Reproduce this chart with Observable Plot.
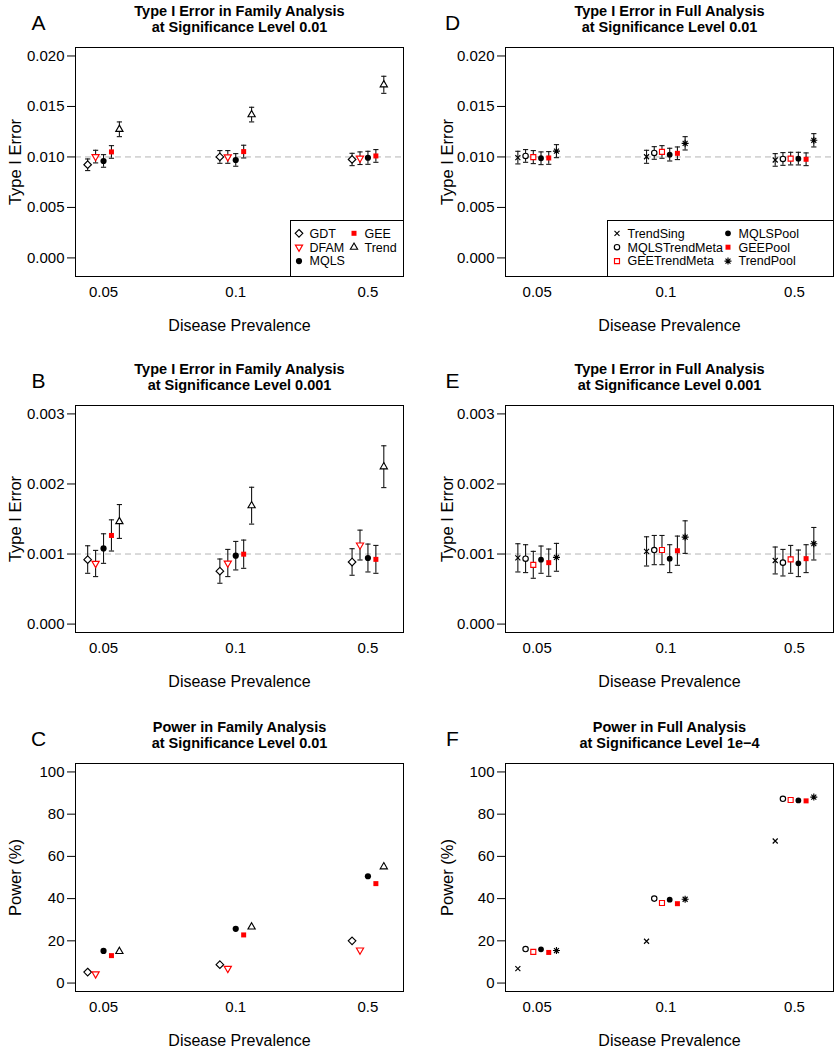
<!DOCTYPE html>
<html><head><meta charset="utf-8">
<script src="https://cdn.jsdelivr.net/npm/d3@7"></script>
<script src="https://cdn.jsdelivr.net/npm/@observablehq/plot@0.6"></script>
<style>
body{margin:0;background:#fff;}
#fig{position:relative;width:838px;height:1050px;overflow:hidden;background:#fff;font-family:"Liberation Sans",Arial,Helvetica,sans-serif;}
#fig svg{position:absolute;}
</style></head><body><div id="fig"></div><script>
// ---------------- data ----------------
const prevalenceLabels = ["0.05", "0.1", "0.5"];
const familyMethods = ["GDT", "DFAM", "MQLS", "GEE", "Trend"];
const fullMethods = ["TrendSing", "MQLSTrendMeta", "GEETrendMeta", "MQLSPool", "GEEPool", "TrendPool"];

// A: Type I error, family analysis, alpha 0.01 (rows: methods, cols: prevalence)
const famErr01   = [[0.00923,0.01000,0.00975],[0.01003,0.01000,0.00988],[0.00960,0.00970,0.00992],[0.01050,0.01053,0.01010],[0.01274,0.01419,0.01715]];
const famErr01Lo = [[0.00865,0.00937,0.00914],[0.00941,0.00937,0.00925],[0.00898,0.00908,0.00927],[0.00987,0.00990,0.00947],[0.01201,0.01347,0.01630]];
const famErr01Hi = [[0.00980,0.01063,0.01036],[0.01066,0.01063,0.01050],[0.01023,0.01033,0.01056],[0.01112,0.01116,0.01073],[0.01347,0.01492,0.01799]];

// B: Type I error, family analysis, alpha 0.001
const famErr001   = [[0.000920,0.000756,0.000886],[0.000865,0.000870,0.001128],[0.001080,0.000976,0.000943],[0.001265,0.000998,0.000924],[0.001464,0.001690,0.002246]];
const famErr001Lo = [[0.000725,0.000583,0.000697],[0.000678,0.000678,0.000915],[0.000867,0.000773,0.000744],[0.001043,0.000796,0.000725],[0.001223,0.001427,0.001948]];
const famErr001Hi = [[0.001118,0.000929,0.001076],[0.001052,0.001066,0.001341],[0.001289,0.001180,0.001142],[0.001488,0.001199,0.001123],[0.001706,0.001953,0.002545]];

// C: Power (%), family analysis, alpha 0.01
const famPower = [[5.2,8.7,20.0],[4.3,6.9,15.6],[15.2,25.7,50.6],[13.0,22.8,47.1],[15.0,26.6,55.1]];

// D: Type I error, full analysis, alpha 0.01
const fullErr01   = [[0.00993,0.01002,0.00970],[0.01010,0.01040,0.00980],[0.00998,0.01050,0.00983],[0.00987,0.01023,0.00983],[0.00990,0.01036,0.00977],[0.01058,0.01135,0.01165]];
const fullErr01Lo = [[0.00931,0.00937,0.00908],[0.00947,0.00977,0.00917],[0.00934,0.00987,0.00921],[0.00924,0.00960,0.00921],[0.00927,0.00974,0.00914],[0.00993,0.01069,0.01099]];
const fullErr01Hi = [[0.01056,0.01066,0.01033],[0.01073,0.01102,0.01043],[0.01063,0.01112,0.01046],[0.01050,0.01086,0.01046],[0.01053,0.01099,0.01040],[0.01122,0.01201,0.01231]];

// E: Type I error, full analysis, alpha 0.001
const fullErr001   = [[0.000946,0.001038,0.000908],[0.000934,0.001057,0.000877],[0.000846,0.001057,0.000924],[0.000920,0.000934,0.000867],[0.000877,0.001047,0.000934],[0.000953,0.001242,0.001147]];
const fullErr001Lo = [[0.000744,0.000829,0.000716],[0.000735,0.000848,0.000687],[0.000654,0.000848,0.000725],[0.000725,0.000735,0.000678],[0.000682,0.000839,0.000735],[0.000754,0.001009,0.000915]];
const fullErr001Hi = [[0.001147,0.001246,0.001100],[0.001133,0.001265,0.001066],[0.001038,0.001265,0.001123],[0.001114,0.001133,0.001057],[0.001071,0.001256,0.001133],[0.001152,0.001474,0.001379]];

// F: Power (%), full analysis, alpha 1e-4
const fullPower = [[6.8,19.8,67.3],[16.1,40.0,87.3],[14.8,37.9,86.7],[16.0,39.5,86.5],[14.5,37.6,86.3],[15.4,39.7,88.1]];

const errTicks01 = [0, 0.005, 0.010, 0.015, 0.020];
const errTicks001 = [0, 0.001, 0.002, 0.003];
const powerTicks = [0, 20, 40, 60, 80, 100];

// ---------------- symbols ----------------
const rad = s => Math.sqrt(s / Math.PI);
const SYM = {
  circle: {draw(c, s) { const r = rad(s); c.moveTo(r, 0); c.arc(0, 0, r, 0, 2 * Math.PI); c.closePath(); }},
  diamond: {draw(c, s) { const r = rad(s); c.moveTo(0, -r); c.lineTo(r, 0); c.lineTo(0, r); c.lineTo(-r, 0); c.closePath(); }},
  square: {draw(c, s) { const r = rad(s); c.rect(-r, -r, 2 * r, 2 * r); }},
  triUp: {draw(c, s) { const w = rad(s); c.moveTo(0, -1.1547 * w); c.lineTo(w, 0.5774 * w); c.lineTo(-w, 0.5774 * w); c.closePath(); }},
  triDown: {draw(c, s) { const w = rad(s); c.moveTo(0, 1.1547 * w); c.lineTo(w, -0.5774 * w); c.lineTo(-w, -0.5774 * w); c.closePath(); }},
  times: {draw(c, s) { const r = rad(s); c.moveTo(-r, -r); c.lineTo(r, r); c.moveTo(-r, r); c.lineTo(r, -r); }},
  asterisk: {draw(c, s) { const r = rad(s), d = r * Math.SQRT1_2; c.moveTo(-r, 0); c.lineTo(r, 0); c.moveTo(0, -r); c.lineTo(0, r); c.moveTo(-d, -d); c.lineTo(d, d); c.moveTo(-d, d); c.lineTo(d, -d); }},
  cap: {draw(c, s) { const r = rad(s); c.moveTo(-r, 0); c.lineTo(r, 0); }}
};

const familyStyles = [
  {symbol: SYM.diamond, r: 3.8, fill: "white", stroke: "black"},
  {symbol: SYM.triDown, r: 3.6, fill: "white", stroke: "red"},
  {symbol: SYM.circle, r: 3.1, fill: "black", stroke: "none"},
  {symbol: SYM.square, r: 2.5, fill: "red", stroke: "none"},
  {symbol: SYM.triUp, r: 3.6, fill: "white", stroke: "black"}
];
const fullStyles = [
  {symbol: SYM.times, r: 2.5, fill: "none", stroke: "black"},
  {symbol: SYM.circle, r: 2.7, fill: "white", stroke: "black"},
  {symbol: SYM.square, r: 2.5, fill: "white", stroke: "red"},
  {symbol: SYM.circle, r: 2.9, fill: "black", stroke: "none"},
  {symbol: SYM.square, r: 2.5, fill: "red", stroke: "none"},
  {symbol: SYM.asterisk, r: 3.5, fill: "none", stroke: "black"}
];
const famOffsets = [-2, -1, 0, 1, 2].map(k => k * 0.06);
const fullOffsets = [-2.5, -1.5, -0.5, 0.5, 1.5, 2.5].map(k => k * 0.06);

const FONT = '"Liberation Sans", Arial, Helvetica, sans-serif';
const fig = document.getElementById("fig");

function makeRows(values, lo, hi, methods, offsets) {
  const rows = [];
  methods.forEach((m, i) => values[i].forEach((v, j) => rows.push({
    method: m, idx: i, x: j + 1 + offsets[i], y: v,
    lo: lo ? lo[i][j] : null, hi: hi ? hi[i][j] : null
  })));
  return rows;
}

function drawPanel(p) {
  const rows = makeRows(p.values, p.lo, p.hi, p.methods, p.offsets);
  const marks = [];
  if (p.ref != null) marks.push(Plot.ruleY([p.ref], {stroke: "#b5b5b5", strokeWidth: 1, strokeDasharray: "6,4"}));
  if (p.lo) {
    marks.push(Plot.ruleX(rows, {x: "x", y1: "lo", y2: "hi", stroke: "#151515", strokeWidth: 1.1}));
    marks.push(Plot.dot(rows, {x: "x", y: "lo", symbol: SYM.cap, r: 2.6, stroke: "#151515", fill: "none", strokeWidth: 1.1}));
    marks.push(Plot.dot(rows, {x: "x", y: "hi", symbol: SYM.cap, r: 2.6, stroke: "#151515", fill: "none", strokeWidth: 1.1}));
  }
  p.methods.forEach((m, i) => {
    const st = p.styles[i];
    marks.push(Plot.dot(rows.filter(d => d.idx === i), {x: "x", y: "y", symbol: st.symbol, r: st.r, fill: st.fill, stroke: st.stroke, strokeWidth: 1.15}));
  });
  marks.push(Plot.frame({stroke: "black", strokeWidth: 1}));
  marks.push(Plot.axisY({ticks: p.yTicks, tickFormat: p.yFmt, tickSize: 8, tickPadding: 3, label: null, fontSize: 15}));
  marks.push(Plot.axisX({ticks: [1, 2, 3], tickFormat: d => prevalenceLabels[d - 1], tickSize: 0, tickPadding: 10, label: null, fontSize: 15}));
  marks.push(Plot.text([p.title1], {text: d => d, frameAnchor: "top", dy: -36, fontWeight: "bold", fontSize: 14.5, textAnchor: "middle", lineAnchor: "middle"}));
  marks.push(Plot.text([p.title2], {text: d => d, frameAnchor: "top", dy: -20.5, fontWeight: "bold", fontSize: 14.5, textAnchor: "middle", lineAnchor: "middle"}));
  marks.push(Plot.text([p.letter], {text: d => d, frameAnchor: "top-left", dx: p.letterDx, dy: -24, fontSize: 21, textAnchor: "middle", lineAnchor: "middle"}));
  marks.push(Plot.text([p.ylabel], {text: d => d, frameAnchor: "left", dx: p.ylabDx, rotate: -90, fontSize: 16.5, textAnchor: "middle", lineAnchor: "middle"}));
  marks.push(Plot.text(["Disease Prevalence"], {text: d => d, frameAnchor: "bottom", dy: 49, fontSize: 16, textAnchor: "middle", lineAnchor: "middle"}));
  const svg = Plot.plot({
    width: p.width, height: 350,
    marginLeft: 75, marginRight: p.mr, marginTop: p.mt, marginBottom: p.mb,
    x: {domain: p.xDomain},
    y: {domain: p.yDomain},
    style: {fontFamily: FONT, fontSize: "15px", color: "black", background: "transparent", overflow: "visible"},
    marks
  });
  svg.style.left = p.left + "px";
  svg.style.top = p.top + "px";
  fig.appendChild(svg);
}

const famX = [0.788, 3.269];
const fullX = [0.754, 3.303];
const fmt3 = d3.format(".3f");
const fmtInt = d => String(d);

const rowsLayout = [
  {top: 0, mt: 47, mb: 74},
  {top: 350, mt: 55, mb: 68},
  {top: 700, mt: 63, mb: 59}
];
const colLayout = [
  {left: 0, width: 419, mr: 16, letterDx: -37, ylabDx: -60},
  {left: 430, width: 408, mr: 5, letterDx: -53, ylabDx: -58}
];

const panels = [
  {row: 0, col: 0, letter: "A", title1: "Type I Error in Family Analysis", title2: "at Significance Level 0.01", ylabel: "Type I Error",
   values: famErr01, lo: famErr01Lo, hi: famErr01Hi, methods: familyMethods, styles: familyStyles, offsets: famOffsets, xDomain: famX,
   yDomain: [-0.00184, 0.02084], yTicks: errTicks01, yFmt: fmt3, ref: 0.01},
  {row: 1, col: 0, letter: "B", title1: "Type I Error in Family Analysis", title2: "at Significance Level 0.001", ylabel: "Type I Error",
   values: famErr001, lo: famErr001Lo, hi: famErr001Hi, methods: familyMethods, styles: familyStyles, offsets: famOffsets, xDomain: famX,
   yDomain: [-0.00012, 0.00312], yTicks: errTicks001, yFmt: fmt3, ref: 0.001},
  {row: 2, col: 0, letter: "C", title1: "Power in Family Analysis", title2: "at Significance Level 0.01", ylabel: "Power (%)",
   values: famPower, lo: null, hi: null, methods: familyMethods, styles: familyStyles, offsets: famOffsets, xDomain: famX,
   yDomain: [-4, 104], yTicks: powerTicks, yFmt: fmtInt, ref: null},
  {row: 0, col: 1, letter: "D", title1: "Type I Error in Full Analysis", title2: "at Significance Level 0.01", ylabel: "Type I Error",
   values: fullErr01, lo: fullErr01Lo, hi: fullErr01Hi, methods: fullMethods, styles: fullStyles, offsets: fullOffsets, xDomain: fullX,
   yDomain: [-0.00184, 0.02084], yTicks: errTicks01, yFmt: fmt3, ref: 0.01},
  {row: 1, col: 1, letter: "E", title1: "Type I Error in Full Analysis", title2: "at Significance Level 0.001", ylabel: "Type I Error",
   values: fullErr001, lo: fullErr001Lo, hi: fullErr001Hi, methods: fullMethods, styles: fullStyles, offsets: fullOffsets, xDomain: fullX,
   yDomain: [-0.00012, 0.00312], yTicks: errTicks001, yFmt: fmt3, ref: 0.001},
  {row: 2, col: 1, letter: "F", title1: "Power in Full Analysis", title2: "at Significance Level 1e\u22124", ylabel: "Power (%)",
   values: fullPower, lo: null, hi: null, methods: fullMethods, styles: fullStyles, offsets: fullOffsets, xDomain: fullX,
   yDomain: [-4, 104], yTicks: powerTicks, yFmt: fmtInt, ref: null}
];

panels.forEach(p => drawPanel(Object.assign({}, p, rowsLayout[p.row], colLayout[p.col])));

// ---------------- legends (overlay) ----------------
const ov = d3.select(fig).append("svg")
  .attr("width", 838).attr("height", 1050)
  .style("left", "0px").style("top", "0px")
  .style("font-family", FONT).style("pointer-events", "none");

function symbolPath(sym, r) { const p = d3.path(); sym.draw(p, r * r * Math.PI); return p.toString(); }

function drawLegend(box, methods, styles, cols) {
  const g = ov.append("g").attr("transform", `translate(${box.x},${box.y})`);
  g.append("rect").attr("x", 0.5).attr("y", 0.5).attr("width", box.w).attr("height", box.h)
    .attr("fill", "white").attr("stroke", "black").attr("stroke-width", 1);
  methods.forEach((m, i) => {
    const col = Math.floor(i / 3), row = i % 3;
    const sx = cols[col].sx, tx = cols[col].tx, y = 13.3 + row * 13.9;
    const st = styles[i];
    g.append("path").attr("d", symbolPath(st.symbol, st.r))
      .attr("transform", `translate(${sx},${y})`)
      .attr("fill", st.fill).attr("stroke", st.stroke).attr("stroke-width", 1.15);
    g.append("text").attr("x", tx).attr("y", y).attr("dy", "0.35em")
      .attr("font-size", 12.5).attr("fill", "black").text(m);
  });
}

drawLegend({x: 290, y: 220, w: 113, h: 56}, familyMethods, familyStyles, [{sx: 9, tx: 19.5}, {sx: 64, tx: 74.5}]);
drawLegend({x: 607, y: 220, w: 226, h: 56}, fullMethods, fullStyles, [{sx: 10, tx: 20.5}, {sx: 121, tx: 131.5}]);
</script></body></html>
